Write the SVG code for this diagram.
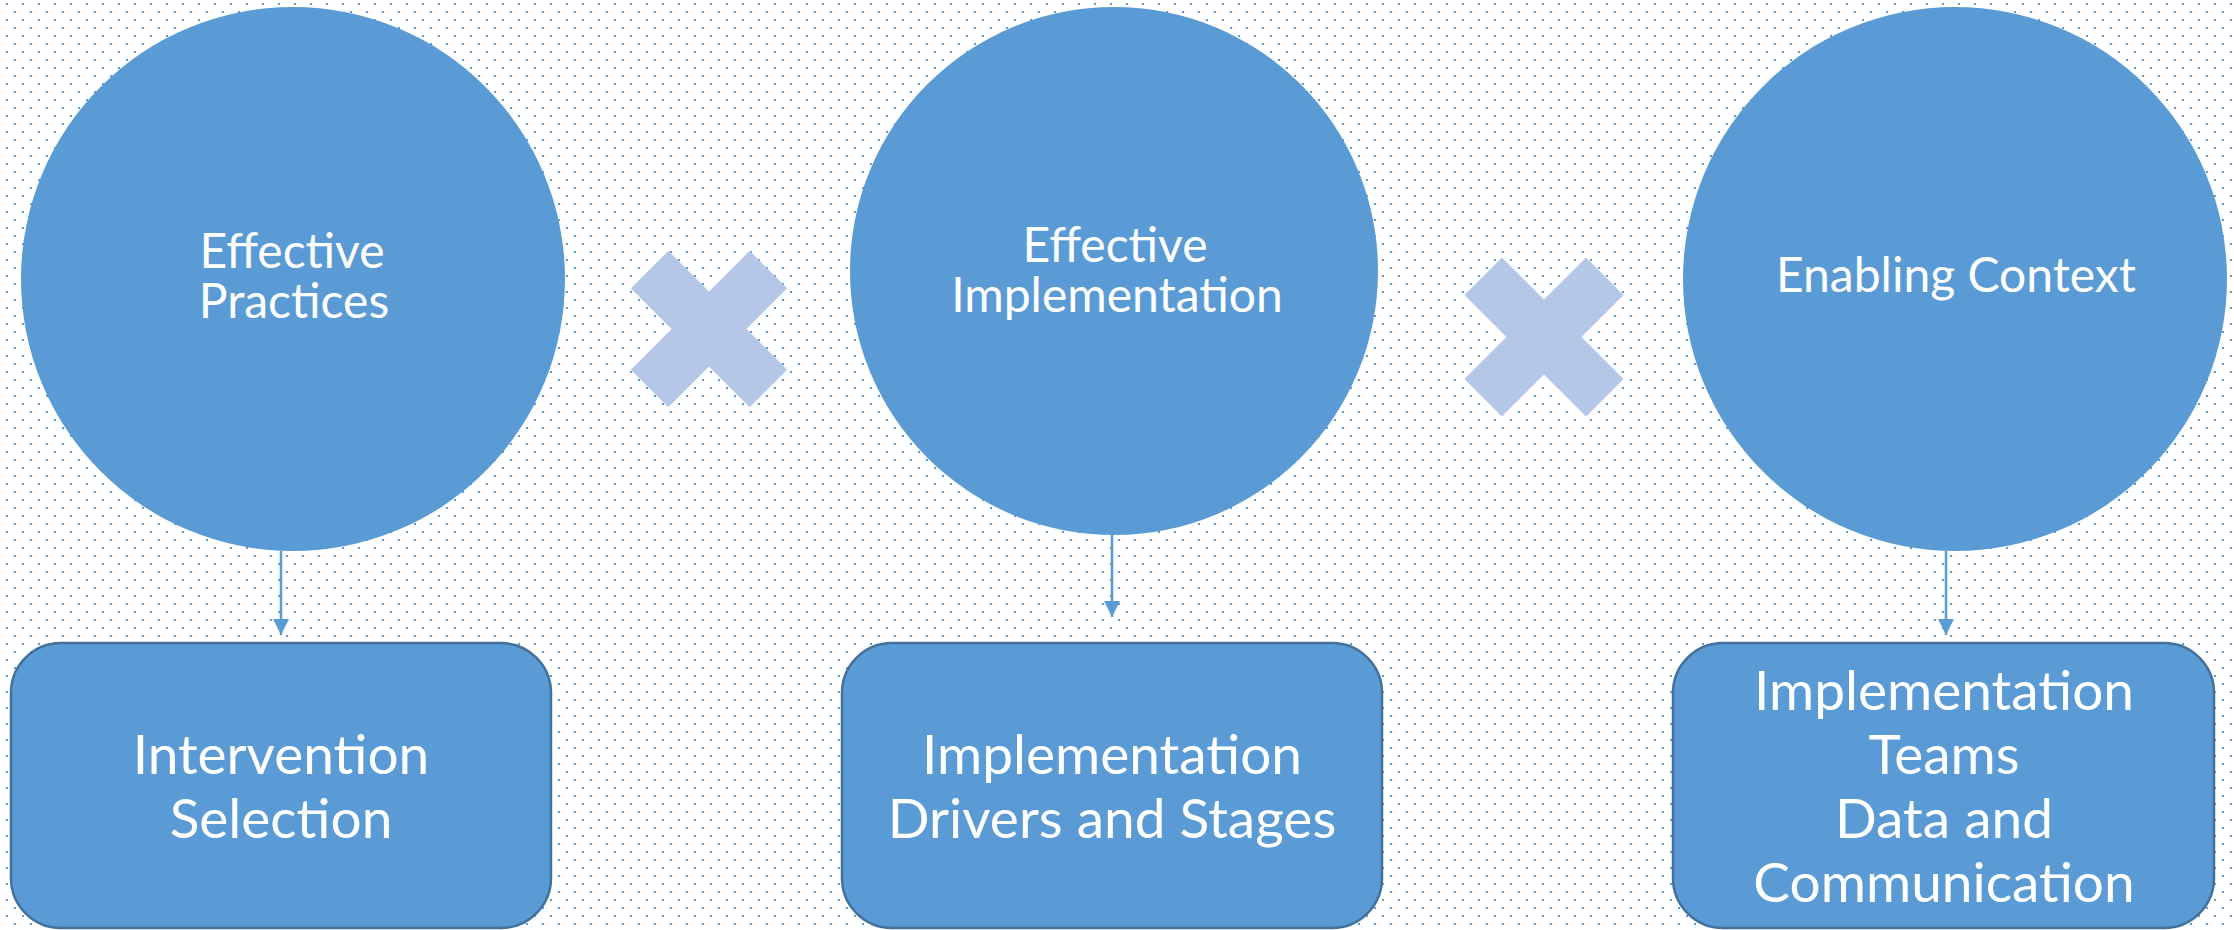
<svg xmlns="http://www.w3.org/2000/svg" width="2234" height="930" viewBox="0 0 2234 930">
<defs>
<pattern id="dots" x="0" y="0" width="16" height="16" patternUnits="userSpaceOnUse">
<rect x="6" y="3" width="2" height="2" fill="#5b9bd5"/>
<rect x="14" y="11" width="2" height="2" fill="#5b9bd5"/>
</pattern>
<marker id="ah" viewBox="0 0 16 16" refX="16" refY="8" markerWidth="16" markerHeight="16" markerUnits="userSpaceOnUse" orient="auto">
<path d="M0,0 L16,8 L0,16 Z" fill="#5b9bd5"/>
</marker>
</defs>
<style>
.circ{fill:#5b9bd5;}
.box{fill:#5b9bd5;stroke:#41719c;stroke-width:2.5;}
.cross{fill:#b4c7e7;}
.t{fill:#ffffff;font-family:Lato,"Open Sans","Liberation Sans",sans-serif;text-anchor:middle;}
.ct{font-size:48px;}
.bt{font-size:55px;}
.conn{stroke:#5b9bd5;stroke-width:2.5;fill:none;}
</style>
<rect width="2234" height="930" fill="#ffffff"/>
<rect width="2234" height="930" fill="url(#dots)"/>

<g id="node-effective-practices">
<circle class="circ" cx="293" cy="279" r="272"/>
<text class="t ct" x="292" y="268">Effective</text>
<text class="t ct" x="294" y="318">Practices</text>
</g>
<g id="cross-1">
<rect class="cross" x="625" y="302.5" width="168" height="53" transform="rotate(45 709 329)"/>
<rect class="cross" x="625" y="302.5" width="168" height="53" transform="rotate(-45 709 329)"/>
</g>
<g id="node-effective-implementation">
<circle class="circ" cx="1114" cy="271" r="264"/>
<text class="t ct" x="1115" y="262">Effective</text>
<text class="t ct" x="1117" y="312">Implementation</text>
</g>
<g id="cross-2">
<rect class="cross" x="1458" y="310.5" width="172" height="53" transform="rotate(45 1544 337)"/>
<rect class="cross" x="1458" y="310.5" width="172" height="53" transform="rotate(-45 1544 337)"/>
</g>
<g id="node-enabling-context">
<circle class="circ" cx="1955" cy="279" r="272"/>
<text class="t ct" x="1956" y="292">Enabling Context</text>
</g>

<g id="node-intervention-selection">
<rect class="box" x="11" y="643" width="540" height="285" rx="50" ry="50"/>
<text class="t bt" x="281" y="774">Intervention</text>
<text class="t bt" x="281" y="838">Selection</text>
</g>
<g id="node-drivers-stages">
<rect class="box" x="842" y="643" width="540" height="285" rx="50" ry="50"/>
<text class="t bt" x="1112" y="774">Implementation</text>
<text class="t bt" x="1112" y="838">Drivers and Stages</text>
</g>
<g id="node-teams-data">
<rect class="box" x="1673" y="643" width="541" height="285" rx="50" ry="50"/>
<text class="t bt" x="1944" y="710">Implementation</text>
<text class="t bt" x="1944" y="774">Teams</text>
<text class="t bt" x="1944" y="838">Data and</text>
<text class="t bt" x="1944" y="902">Communication</text>
</g>

<g id="connectors">
<line class="conn" x1="281" y1="551" x2="281" y2="635" marker-end="url(#ah)"/>
<line class="conn" x1="1112" y1="535" x2="1112" y2="617" marker-end="url(#ah)"/>
<line class="conn" x1="1946" y1="551" x2="1946" y2="635" marker-end="url(#ah)"/>
</g>
</svg>
